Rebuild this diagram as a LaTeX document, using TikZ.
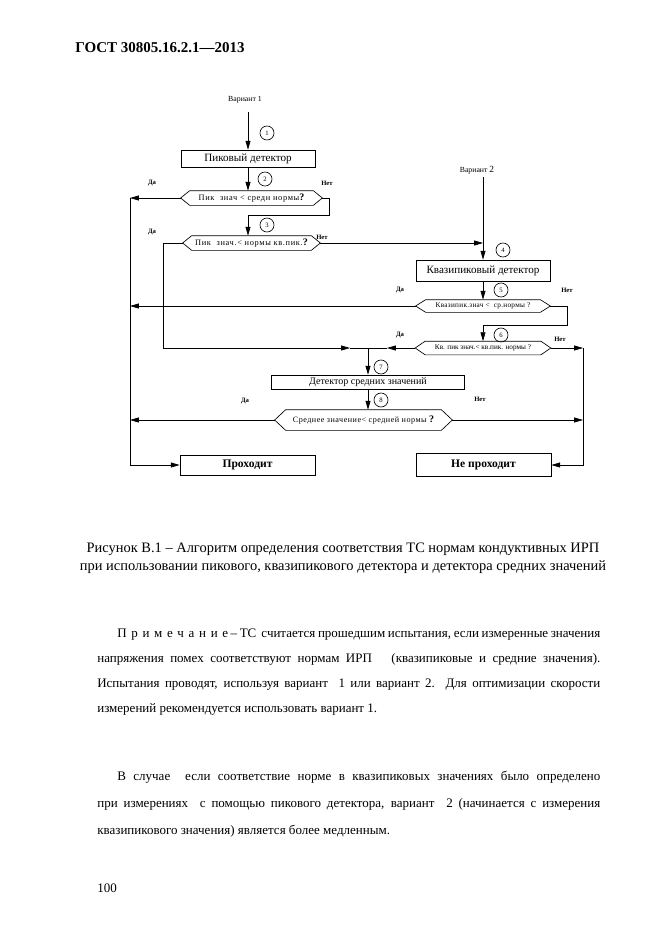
\documentclass[tikz,border=0pt]{standalone}
\usepackage{fontspec}
\setmainfont{Liberation Serif}
\newfontfamily\mylsa[LetterSpace=8]{Liberation Serif}
\newfontfamily\mylsb[LetterSpace=6]{Liberation Serif}
\newfontfamily\mylsc[LetterSpace=4]{Liberation Serif}
\usetikzlibrary{arrows.meta}
\newcommand{\myboxf}{\fontsize{10}{11}\selectfont}
\newcommand{\mypassf}{\fontsize{10.4}{11}\selectfont\bfseries}
\newcommand{\myhexf}{\mylsa\fontsize{7.5}{8}\selectfont}
\newcommand{\mynumf}{\fontsize{6}{7}\selectfont}
\newcommand{\mylblf}{\fontsize{6}{7}\selectfont\bfseries}
\newcommand{\myvarf}{\fontsize{7}{8}\selectfont}
\newcommand{\mybodyf}{\fontsize{11.7}{14}\selectfont}
\newcommand{\mycapf}{\fontsize{13}{15}\selectfont}
\newcommand{\myheadf}{\fontsize{13.5}{15}\selectfont\bfseries}
\newcommand{\myq}{{\fontsize{9}{9}\selectfont\bfseries ?}}
\newcommand{\myspc}{\kern4.2pt}
\newcommand{\hexo}[2]{\draw (#1.west) -- ([xshift=#2]#1.north west) -- ([xshift=-#2]#1.north east) -- (#1.east) -- ([xshift=-#2]#1.south east) -- ([xshift=#2]#1.south west) -- cycle;}
\begin{document}
\begin{tikzpicture}[x=0.9pt,y=-0.9pt,line width=0.6pt,
  arr/.style={-{Triangle[length=8pt,width=4.5pt]}},
  box/.style={draw, inner sep=0pt, font=\myboxf},
  hex/.style={inner sep=0pt, font=\myhexf},
  num/.style={draw, circle, inner sep=0pt, minimum size=12.6pt, font=\mynumf},
  lbl/.style={font=\mylblf, inner sep=0pt},
  body/.style={anchor=base west, inner sep=0pt, font=\mybodyf},
  captext/.style={anchor=base, inner sep=0pt, font=\mycapf}]
\fill[white] (0,0) rectangle (661,935);
\useasboundingbox (0,0) rectangle (661,935);
% header
\node[body, font=\myheadf] (hdr) at (75,52) {ГОСТ 30805.16.2.1—2013};
% ---------- diagram nodes
\node[lbl, font=\myvarf] (v1) at (245,100) {Вариант 1};
\coordinate (v1s) at (248,112);
\node[box, minimum width=120.6pt, minimum height=15.3pt] (b1) at (248,158.5) {Пиковый детектор};
\node[num] (n1) at (267,133) {1};
\node[hex, minimum width=126.9pt, minimum height=12.6pt] (d1) at (251.5,198) {Пик\ \ знач < средн нормы\myq};
\node[num] (n2) at (265,179) {2};
\node[lbl] (l1y) at (152,183) {Да};
\node[lbl] (l1n) at (327,183) {Нет};
\node[hex, minimum width=123.3pt, minimum height=12.6pt] (d2) at (251.5,243) {Пик\ \ знач.< нормы кв.пик.\myq};
\node[num] (n3) at (267,225) {3};
\node[lbl] (l2y) at (152,232) {Да};
\node[lbl] (l2n) at (322,237) {Нет};
\node[lbl, font=\myvarf] (v2) at (477,170) {Вариант {\fontsize{8.5}{8}\selectfont 2}};
\coordinate (v2s) at (483,177);
\node[box, minimum width=120.6pt, minimum height=18.9pt] (b4) at (483,270.5) {Квазипиковый детектор};
\node[num] (n4) at (503,250) {4};
\node[hex, minimum width=120.6pt, minimum height=10.8pt, font=\mylsc\fontsize{6.5}{8}\selectfont] (d5) at (483,306) {Квазипик.знач <\ \ ср.нормы ?};
\node[num] (n5) at (501,290) {5};
\node[lbl] (l5y) at (400,290) {Да};
\node[lbl] (l5n) at (567,290) {Нет};
\node[hex, minimum width=121.5pt, minimum height=11.7pt, font=\fontsize{6.5}{8}\selectfont] (d6) at (483,348) {Кв. пик знач.< кв.пик. нормы ?};
\node[num] (n6) at (501,335) {6};
\node[lbl] (l6y) at (400,335) {Да};
\node[lbl] (l6n) at (560,339) {Нет};
\node[box, minimum width=173.7pt, minimum height=12.6pt, font=\fontsize{9}{10}\selectfont] (b7) at (368,382) {Детектор средних значений};
\node[num] (n7) at (381,367) {7};
\node[hex, minimum width=159.3pt, minimum height=18pt, font=\mylsb\fontsize{7.3}{8}\selectfont] (d8) at (363.5,420) {Среднее значение< средней нормы \myq};
\node[num] (n8) at (381,400) {8};
\node[lbl] (l8y) at (245,401) {Да};
\node[lbl] (l8n) at (480,399) {Нет};
\node[box, font=\mypassf, minimum width=121.5pt, minimum height=18pt] (pass) at (247.5,465) {Проходит};
\node[box, font=\mypassf, minimum width=121.5pt, minimum height=20.7pt] (fail) at (483.5,465) {Не проходит};
\hexo{d1}{8.1pt}
\hexo{d2}{8.1pt}
\hexo{d5}{9pt}
\hexo{d6}{9pt}
\hexo{d8}{9.9pt}
% ---------- coordinates
\coordinate (L1) at (130,198);
\coordinate (L5) at (130,306);
\coordinate (L8) at (130,420);
\coordinate (Lb) at (130,465);
\coordinate (r1a) at (329,198);
\coordinate (r1b) at (329,215);
\coordinate (r1c) at (248,215);
\coordinate (m2a) at (163,243);
\coordinate (m2b) at (163,348);
\coordinate (m2c) at (350,348);
\coordinate (J7) at (368,348);
\coordinate (m6) at (387,348);
\coordinate (r5a) at (567,306);
\coordinate (r5b) at (567,325);
\coordinate (r5c) at (483,325);
\coordinate (R6) at (583,348);
\coordinate (R8) at (583,420);
\coordinate (Rb) at (583,465);
% ---------- connectors
\draw[arr] (v1s) -- (b1.north);
\draw[arr] (b1.south) -- (b1.south |- d1.north);
\draw[arr] (d1.east) -- (r1a) -- (r1b) -- (r1c) -- (r1c |- d2.north);
\draw[arr] (d1.west) -- (L1);
\draw[arr] (d5.west) -- (L5);
\draw[arr] (d8.west) -- (L8);
\draw[arr] (L1) -- (Lb) -- (pass.west);
\draw[arr] (d2.west) -- (m2a) -- (m2b) -- (m2c);
\draw (m2c) -- (J7);
\draw[arr] (d6.west) -- (m6);
\draw (m6) -- (J7);
\draw[arr] (J7) -- (b7.north);
\draw[arr] (b7.south) -- (b7.south |- d8.north);
\draw[arr] (v2s) -- (b4.north);
\draw[arr] (d2.east) -- (d2.east -| b4.north);
\draw[arr] (b4.south) -- (d5.north);
\draw[arr] (d5.east) -- (r5a) -- (r5b) -- (r5c) -- (d6.north);
\draw[arr] (d6.east) -- (R6);
\draw[arr] (d8.east) -- (R8);
\draw[arr] (R6) -- (Rb) -- (fail.east);
% ---------- caption and text
\node[captext] (cap1) at (343,552) {Рисунок В.1 – Алгоритм определения соответствия ТС нормам кондуктивных ИРП};
\node[captext] (cap2) at (343,570) {при использовании пикового, квазипикового детектора и детектора средних значений};
\node[body] (nt1) at (117,637) {\makebox[434.7pt][s]{П\myspc р\myspc и\myspc м\myspc е\myspc ч\myspc а\myspc н\myspc и\myspc е – ТС\ \ считается прошедшим испытания, если измеренные значения}};
\node[body] (nt2) at (97,662) {\makebox[452.7pt][s]{напряжения помех соответствуют нормам ИРП\ \ \ (квазипиковые и средние значения).}};
\node[body] (nt3) at (97,687) {\makebox[452.7pt][s]{Испытания проводят, используя вариант\ \ 1 или вариант 2.\ \ Для оптимизации скорости}};
\node[body] (nt4) at (97,712) {измерений рекомендуется использовать вариант 1.};
\node[body] (p1) at (117,780) {\makebox[434.7pt][s]{В случае\ \ если соответствие норме в квазипиковых значениях было определено}};
\node[body] (p2) at (97,807) {\makebox[452.7pt][s]{при измерениях\ \ с помощью пикового детектора, вариант\ \ 2 (начинается с измерения}};
\node[body] (p3) at (97,834) {квазипикового значения) является более медленным.};
\node[body] (pg) at (97,892) {100};
\end{tikzpicture}
\end{document}
